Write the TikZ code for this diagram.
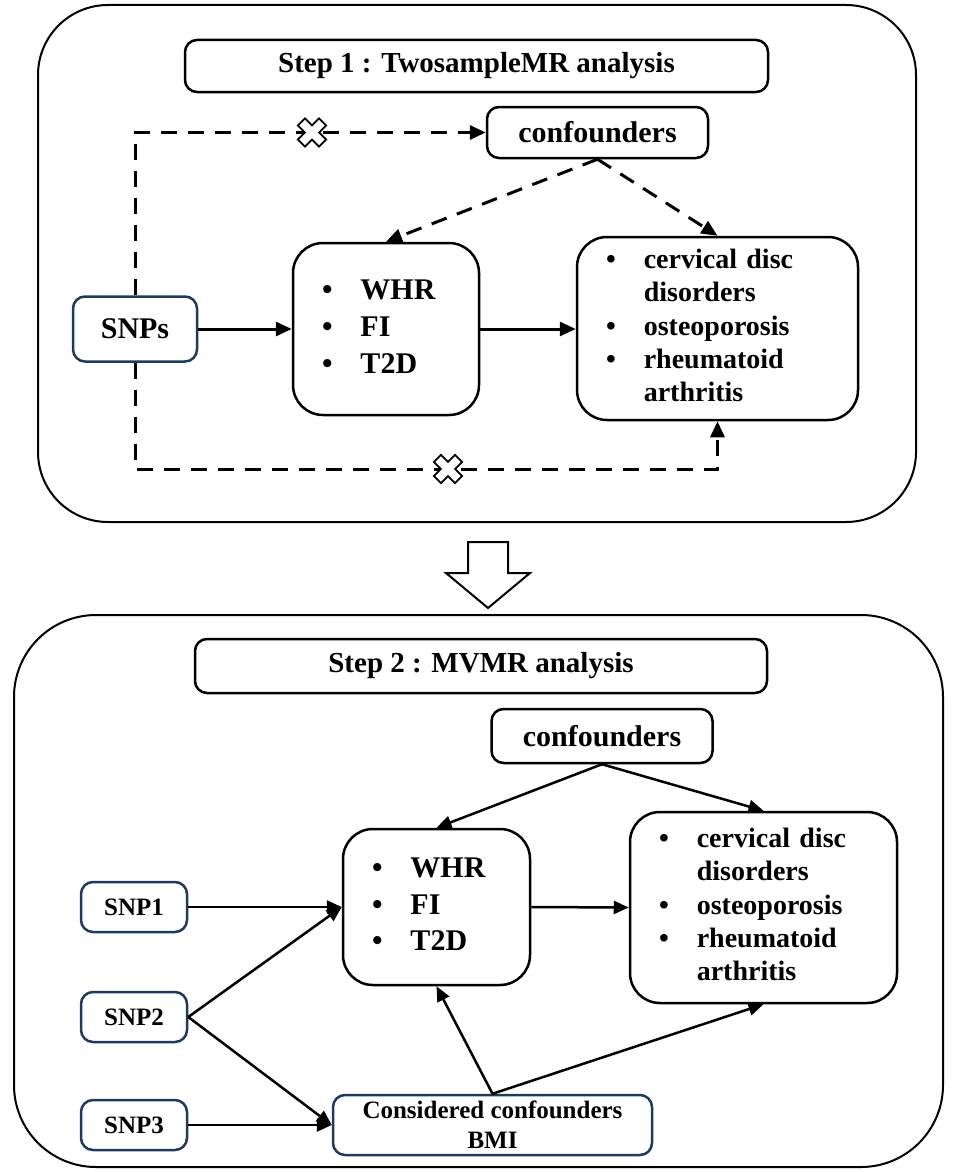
\documentclass[tikz,border=0pt]{standalone}
\usepackage{fontspec}
\setmainfont{Liberation Serif}
\usetikzlibrary{arrows.meta, positioning, calc}

\definecolor{snpblue}{HTML}{1F3A5F}

\begin{document}
\begin{tikzpicture}[x=1pt, y=-1pt,
    font=\bfseries\fontsize{30}{33}\selectfont,
    box/.style={draw, line width=2.5pt, rounded corners=12pt, inner sep=0pt, align=center},
    listbox/.style={box, rounded corners=30pt, inner xsep=29pt, align=left},
    snpbox/.style={box, draw=snpblue},
    panel/.style={draw, line width=2pt, rounded corners=70pt},
    arr/.style={line width=3pt, -{Triangle[length=16pt, width=14pt]}},
    thinarr/.style={line width=2.5pt, -{Triangle[length=15pt, width=13pt]}},
    dasharr/.style={arr, dash pattern=on 16pt off 11pt},
    nocross/.pic={
        \draw[line width=1.8pt, fill=white, solid, rotate=45]
            (5,15) -- (5,5) -- (15,5) -- (15,-5) -- (5,-5) -- (5,-15) -- (-5,-15)
            -- (-5,-5) -- (-15,-5) -- (-15,5) -- (-5,5) -- (-5,15) -- cycle;
    }
]
    \useasboundingbox (0,0) rectangle (954,1172);

    % Step 1
    \draw[panel] (38,5) rectangle (916,522);
    \node[box, minimum width=583pt, minimum height=52pt, font=\bfseries\fontsize{29}{30}\selectfont]
        (title1) at (476.5,66) {Step 1 : TwosampleMR analysis};
    \node[box, minimum width=221pt, minimum height=51pt] (conf1) at (597.5,132.5) {confounders};
    \node[snpbox, minimum width=124pt, minimum height=65pt] (snps) at (135,329) {SNPs};
    \node[listbox, text width=128pt, minimum height=172pt, font=\bfseries\fontsize{30}{37}\selectfont] (expo1) at (386,329)
        {\begin{tabular}{@{}l@{\hspace{28pt}}l@{}}\textbullet & WHR\\ \textbullet & FI\\ \textbullet & T2D\end{tabular}};
    \node[listbox, text width=223pt, minimum height=183pt, font=\bfseries\fontsize{28}{33.3}\selectfont] (out1) at (717.5,328.5)
        {\begin{tabular}{@{}l@{\hspace{28pt}}l@{}}\textbullet & cervical disc\\ & disorders\\
         \textbullet & osteoporosis\\ \textbullet & rheumatoid\\ & arthritis\end{tabular}};

    \coordinate (low) at (135,469);
    \draw[dasharr] (snps.north) |- (conf1.west);
    \draw[dasharr] (snps.south) -- (low) -| (out1.south);
    \draw[dasharr] (conf1.south) -- (expo1.north);
    \draw[dasharr] (conf1.south) -- (out1.north);
    \pic at (312,132.5) {nocross};
    \pic at (448,469) {nocross};

    \draw[arr] (snps.east) -- (expo1.west);
    \draw[arr] (expo1.east) -- (expo1.east -| out1.west);

    % arrow between steps
    \draw[line width=2pt, fill=white] (468,542) -- (508,542) -- (508,573) -- (530,573)
        -- (488,608) -- (446,573) -- (468,573) -- cycle;

    % Step 2
    \draw[panel, rounded corners=82pt] (14,615) rectangle (943,1167);
    \node[box, minimum width=572pt, minimum height=54pt, font=\bfseries\fontsize{29}{30}\selectfont]
        (title2) at (481,666) {Step 2 : MVMR analysis};
    \node[box, minimum width=221pt, minimum height=54pt] (conf2) at (602,736) {confounders};
    \node[listbox, text width=129pt, minimum height=156pt, font=\bfseries\fontsize{30}{36.5}\selectfont] (expo2) at (436.5,907)
        {\begin{tabular}{@{}l@{\hspace{28pt}}l@{}}\textbullet & WHR\\ \textbullet & FI\\ \textbullet & T2D\end{tabular}};
    \node[listbox, text width=209pt, minimum height=191pt, font=\bfseries\fontsize{28}{33.3}\selectfont] (out2) at (763.5,907.5)
        {\begin{tabular}{@{}l@{\hspace{28pt}}l@{}}\textbullet & cervical disc\\ & disorders\\
         \textbullet & osteoporosis\\ \textbullet & rheumatoid\\ & arthritis\end{tabular}};

    \foreach \name/\y/\txt in {snp1/907/SNP1, snp2/1017/SNP2, snp3/1125/SNP3}
        \node[snpbox, minimum width=106pt, minimum height=50pt, font=\bfseries\fontsize{25}{28}\selectfont]
            (\name) at (134,\y) {\txt};
    \node[snpbox, minimum width=319pt, minimum height=60pt, font=\bfseries\fontsize{25}{30}\selectfont]
        (bmi) at (492.5,1125) {Considered confounders\\BMI};

    \draw[thinarr] (conf2.south) -- (expo2.north);
    \draw[thinarr] (conf2.south) -- (out2.north);
    \draw[thinarr] (snp1.east) -- (expo2.west);
    \draw[thinarr] (snp2.east) -- (expo2.west);
    \draw[thinarr] (snp2.east) -- (bmi.west);
    \draw[thinarr] (snp3.east) -- (bmi.west);
    \draw[thinarr] (bmi.north) -- (expo2.south);
    \draw[thinarr] (bmi.north) -- (out2.south);
    \draw[thinarr] (expo2.east) -- (out2.west);
\end{tikzpicture}
\end{document}
